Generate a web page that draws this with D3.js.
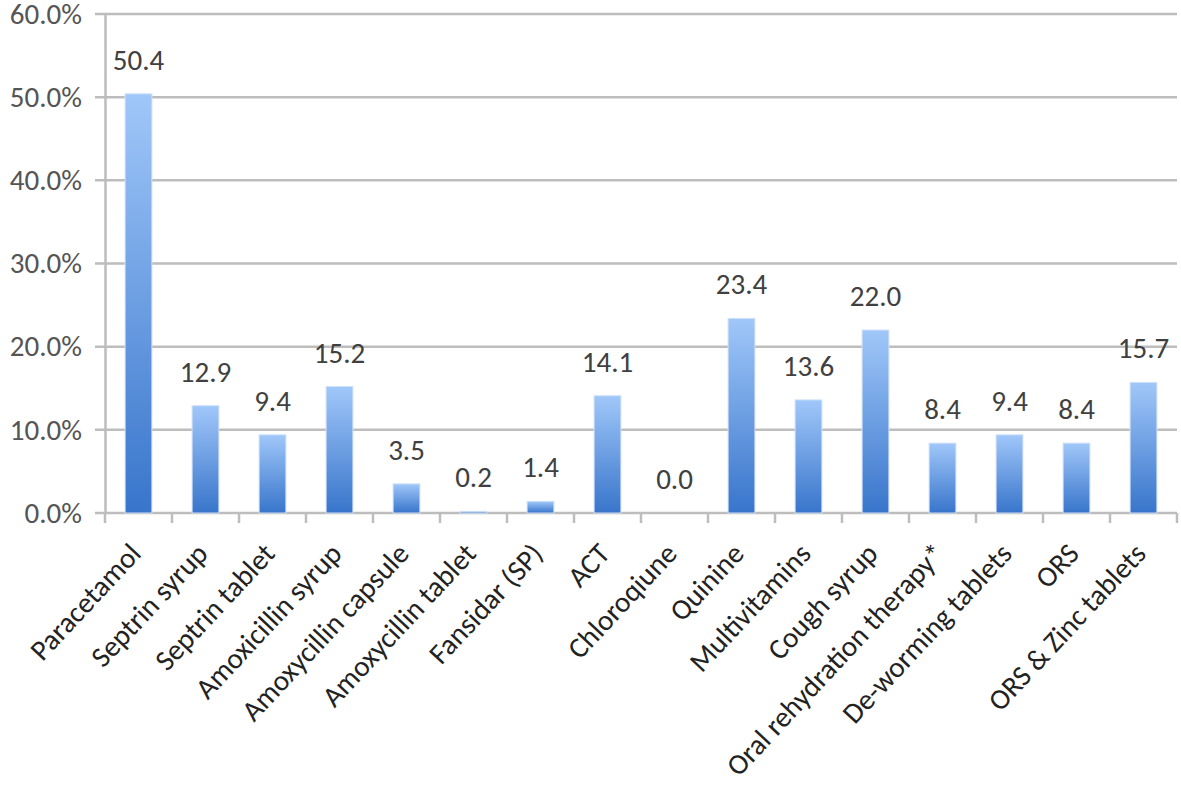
<!DOCTYPE html>
<html>
<head>
<meta charset="utf-8">
<script src="https://cdn.jsdelivr.net/npm/d3@7"></script>
<style>
  html, body { margin: 0; padding: 0; background: #ffffff; }
  svg { display: block; }
  text { font-family: Carlito, Lato, "Open Sans", sans-serif; }
</style>
</head>
<body>
<svg id="chart" width="1181" height="794"></svg>
<script>
const categories = [
  "Paracetamol", "Septrin syrup", "Septrin tablet", "Amoxicillin syrup",
  "Amoxycillin capsule", "Amoxycillin tablet", "Fansidar (SP)", "ACT",
  "Chloroqiune", "Quinine", "Multivitamins", "Cough syrup",
  "Oral rehydration therapy*", "De-worming tablets", "ORS", "ORS & Zinc tablets"
];
const values = [50.4, 12.9, 9.4, 15.2, 3.5, 0.2, 1.4, 14.1, 0.0, 23.4, 13.6, 22.0, 8.4, 9.4, 8.4, 15.7];
const yTicks = [0, 10, 20, 30, 40, 50, 60];

const svg = d3.select("#chart");
const plotLeft = 105, plotRight = 1177, plotTop = 14, plotBottom = 513;

const x = d3.scaleBand().domain(categories).range([plotLeft, plotRight])
  .paddingInner(0.6).paddingOuter(0.3);
const y = d3.scaleLinear().domain([0, 60]).range([plotBottom, plotTop]);

const gridColor = "#bdbdbd";

// gradient
const defs = svg.append("defs");
const grad = defs.append("linearGradient").attr("id", "barGrad")
  .attr("x1", 0).attr("y1", 0).attr("x2", 0).attr("y2", 1);
grad.append("stop").attr("offset", "0%").attr("stop-color", "#a0c7f9");
grad.append("stop").attr("offset", "100%").attr("stop-color", "#3875cb");

// gridlines
svg.append("g").selectAll("line").data(yTicks).join("line")
  .attr("x1", plotLeft - 10).attr("x2", plotRight)
  .attr("y1", d => y(d)).attr("y2", d => y(d))
  .attr("stroke", gridColor).attr("stroke-width", 2.5);

// y axis
const yAxis = d3.axisLeft(y).tickValues(yTicks)
  .tickFormat(d => d.toFixed(1) + "%").tickSize(0).tickPadding(23);
const gy = svg.append("g").attr("transform", `translate(${plotLeft},0)`).call(yAxis);
gy.select(".domain").attr("stroke", gridColor).attr("stroke-width", 2.5);
gy.selectAll("text").attr("font-size", 29).attr("fill", "#555555")
  .attr("font-family", "Carlito, Lato, 'Open Sans', sans-serif");

// x axis with ticks at category boundaries
const step = x.step();
const boundaries = categories.map(c => x(c) - step * x.paddingOuter()).concat([plotRight]);
svg.append("g").selectAll("line").data(boundaries).join("line")
  .attr("x1", d => d).attr("x2", d => d)
  .attr("y1", plotBottom).attr("y2", plotBottom + 10)
  .attr("stroke", gridColor).attr("stroke-width", 2.5);

// bars
svg.append("g").selectAll("rect").data(values).join("rect")
  .attr("x", (d, i) => x(categories[i]))
  .attr("y", d => y(d))
  .attr("width", x.bandwidth())
  .attr("height", d => plotBottom - y(d))
  .attr("fill", "url(#barGrad)")
  .attr("stroke", "#cfe0f7").attr("stroke-width", 1);

// value labels
svg.append("g").selectAll("text").data(values).join("text")
  .attr("x", (d, i) => x(categories[i]) + x.bandwidth() / 2)
  .attr("y", d => y(d) - 24)
  .attr("text-anchor", "middle")
  .attr("font-size", 29).attr("fill", "#404040")
  .text(d => d.toFixed(1));

// category labels
svg.append("g").selectAll("text").data(categories).join("text")
  .attr("transform", d => `translate(${x(d) + x.bandwidth() / 2 + 4},${plotBottom + 42}) rotate(-47)`)
  .attr("text-anchor", "end")
  .attr("font-size", 29).attr("fill", "#222222")
  .text(d => d);
</script>
</body>
</html>
